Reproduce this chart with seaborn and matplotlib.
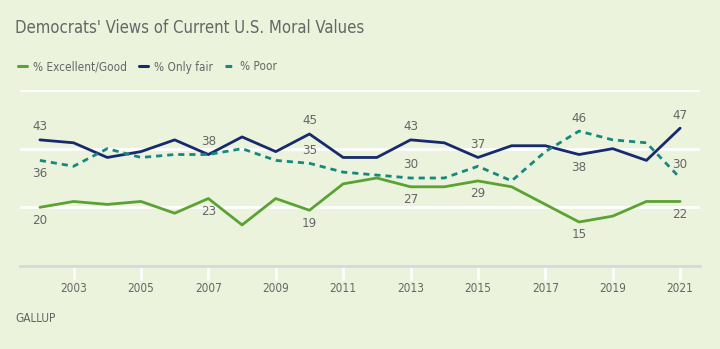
import matplotlib
matplotlib.use("Agg")
import matplotlib.pyplot as plt
from matplotlib import font_manager
from matplotlib.lines import Line2D
import seaborn as sns
import pandas as pd

years = list(range(2002, 2022))
excellent_good = [20, 22, 21, 22, 18, 23, 14, 23, 19, 28, 30, 27, 27, 29, 27, 21, 15, 17, 22, 22]
only_fair = [43, 42, 37, 39, 43, 38, 44, 39, 45, 37, 37, 43, 42, 37, 41, 41, 38, 40, 36, 47]
poor = [36, 34, 40, 37, 38, 38, 40, 36, 35, 32, 31, 30, 30, 34, 29, 39, 46, 43, 42, 30]
series_names = ["% Excellent/Good", "% Only fair", "% Poor"]
xtick_years = [2003, 2005, 2007, 2009, 2011, 2013, 2015, 2017, 2019, 2021]
title = "Democrats' Views of Current U.S. Moral Values"
source = "GALLUP"

# label placement (years labelled, +1 above / -1 below)
label_spec = {
    "% Excellent/Good": {2002: -1, 2007: -1, 2010: -1, 2013: -1, 2015: -1, 2018: -1, 2021: -1},
    "% Only fair": {2002: 1, 2007: 1, 2010: 1, 2013: 1, 2015: 1, 2018: -1, 2021: 1},
    "% Poor": {2002: -1, 2010: 1, 2013: 1, 2018: 1, 2021: 1},
}

df = pd.DataFrame({
    "year": years * 3,
    "value": excellent_good + only_fair + poor,
    "series": [series_names[0]] * 20 + [series_names[1]] * 20 + [series_names[2]] * 20,
})

bg = "#EBF3DD"
colors = {"% Excellent/Good": "#5AA332", "% Only fair": "#172B6C", "% Poor": "#15897E"}
dashes = {"% Excellent/Good": "", "% Only fair": "", "% Poor": (2.2, 1.8)}
txt = "#666666"

sns.set_theme(style="white")
plt.rcParams["font.family"] = ["Roboto", "DejaVu Sans"]

# find a condensed / narrow font if one is installed
cond_path = None
prefs = ["LiberationSansNarrow-Regular", "DejaVuSansCondensed.ttf", "Narrow", "Condensed"]
files = font_manager.findSystemFonts() + [f.fname for f in font_manager.fontManager.ttflist]
for p in prefs:
    for f in files:
        base = f.split("/")[-1]
        if p in base and "Bold" not in base and "Italic" not in base and "Oblique" not in base:
            cond_path = f
            break
    if cond_path:
        break

def fp(size):
    if cond_path:
        return font_manager.FontProperties(fname=cond_path, size=size)
    return font_manager.FontProperties(family=["Roboto", "DejaVu Sans"], size=size)

fig = plt.figure(figsize=(7.2, 3.49), dpi=100, facecolor=bg)
ax = fig.add_axes([20 / 720, 1 - 266 / 349, 680 / 720, 176 / 349])
ax.set_facecolor(bg)

for y in [20, 40, 60]:
    ax.axhline(y, color="white", lw=2, zorder=0)

sns.lineplot(data=df, x="year", y="value", hue="series", style="series",
             palette=colors, dashes=dashes, linewidth=2, ax=ax, legend=False)

for name, vals in zip(series_names, [excellent_good, only_fair, poor]):
    for yr, d in label_spec[name].items():
        v = vals[years.index(yr)]
        ax.annotate(str(v), (yr, v), xytext=(0, 13 * d), textcoords="offset pixels",
                    ha="center", va="center", fontproperties=fp(9.5), color=txt)

ax.set_xlim(2001.41, 2021.59)
ax.set_ylim(0, 60)
ax.set_yticks([])
ax.set_xticks(xtick_years)
ax.set_xticklabels([str(y) for y in xtick_years], color=txt)
for lab in ax.get_xticklabels():
    lab.set_fontproperties(fp(8.5))
ax.tick_params(axis="x", length=10, width=2, color="white", pad=1.5, bottom=True)
ax.set_xlabel("")
ax.set_ylabel("")
for s in ["top", "left", "right"]:
    ax.spines[s].set_visible(False)
ax.spines["bottom"].set_color("#D9D9D9")
ax.spines["bottom"].set_linewidth(2)

fig.text(15 / 720, 1 - 28 / 349, title, fontproperties=fp(12), color=txt, va="center", ha="left")

handles = [Line2D([], [], color=colors[n], lw=2.2,
                  dashes=(2.2, 1.8) if n == "% Poor" else (None, None)) for n in series_names]
leg = fig.legend(handles, series_names, loc="center left", bbox_to_anchor=(7 / 720, 1 - 67 / 349),
                 ncol=3, frameon=False, prop=fp(8.5), handlelength=0.8, handletextpad=0.5,
                 columnspacing=1.0, labelcolor=txt)

fig.text(15 / 720, 1 - 319 / 349, source, fontproperties=fp(8.5),
         color=txt, va="center", ha="left")

fig.savefig("out.png", dpi=100, facecolor=bg)
